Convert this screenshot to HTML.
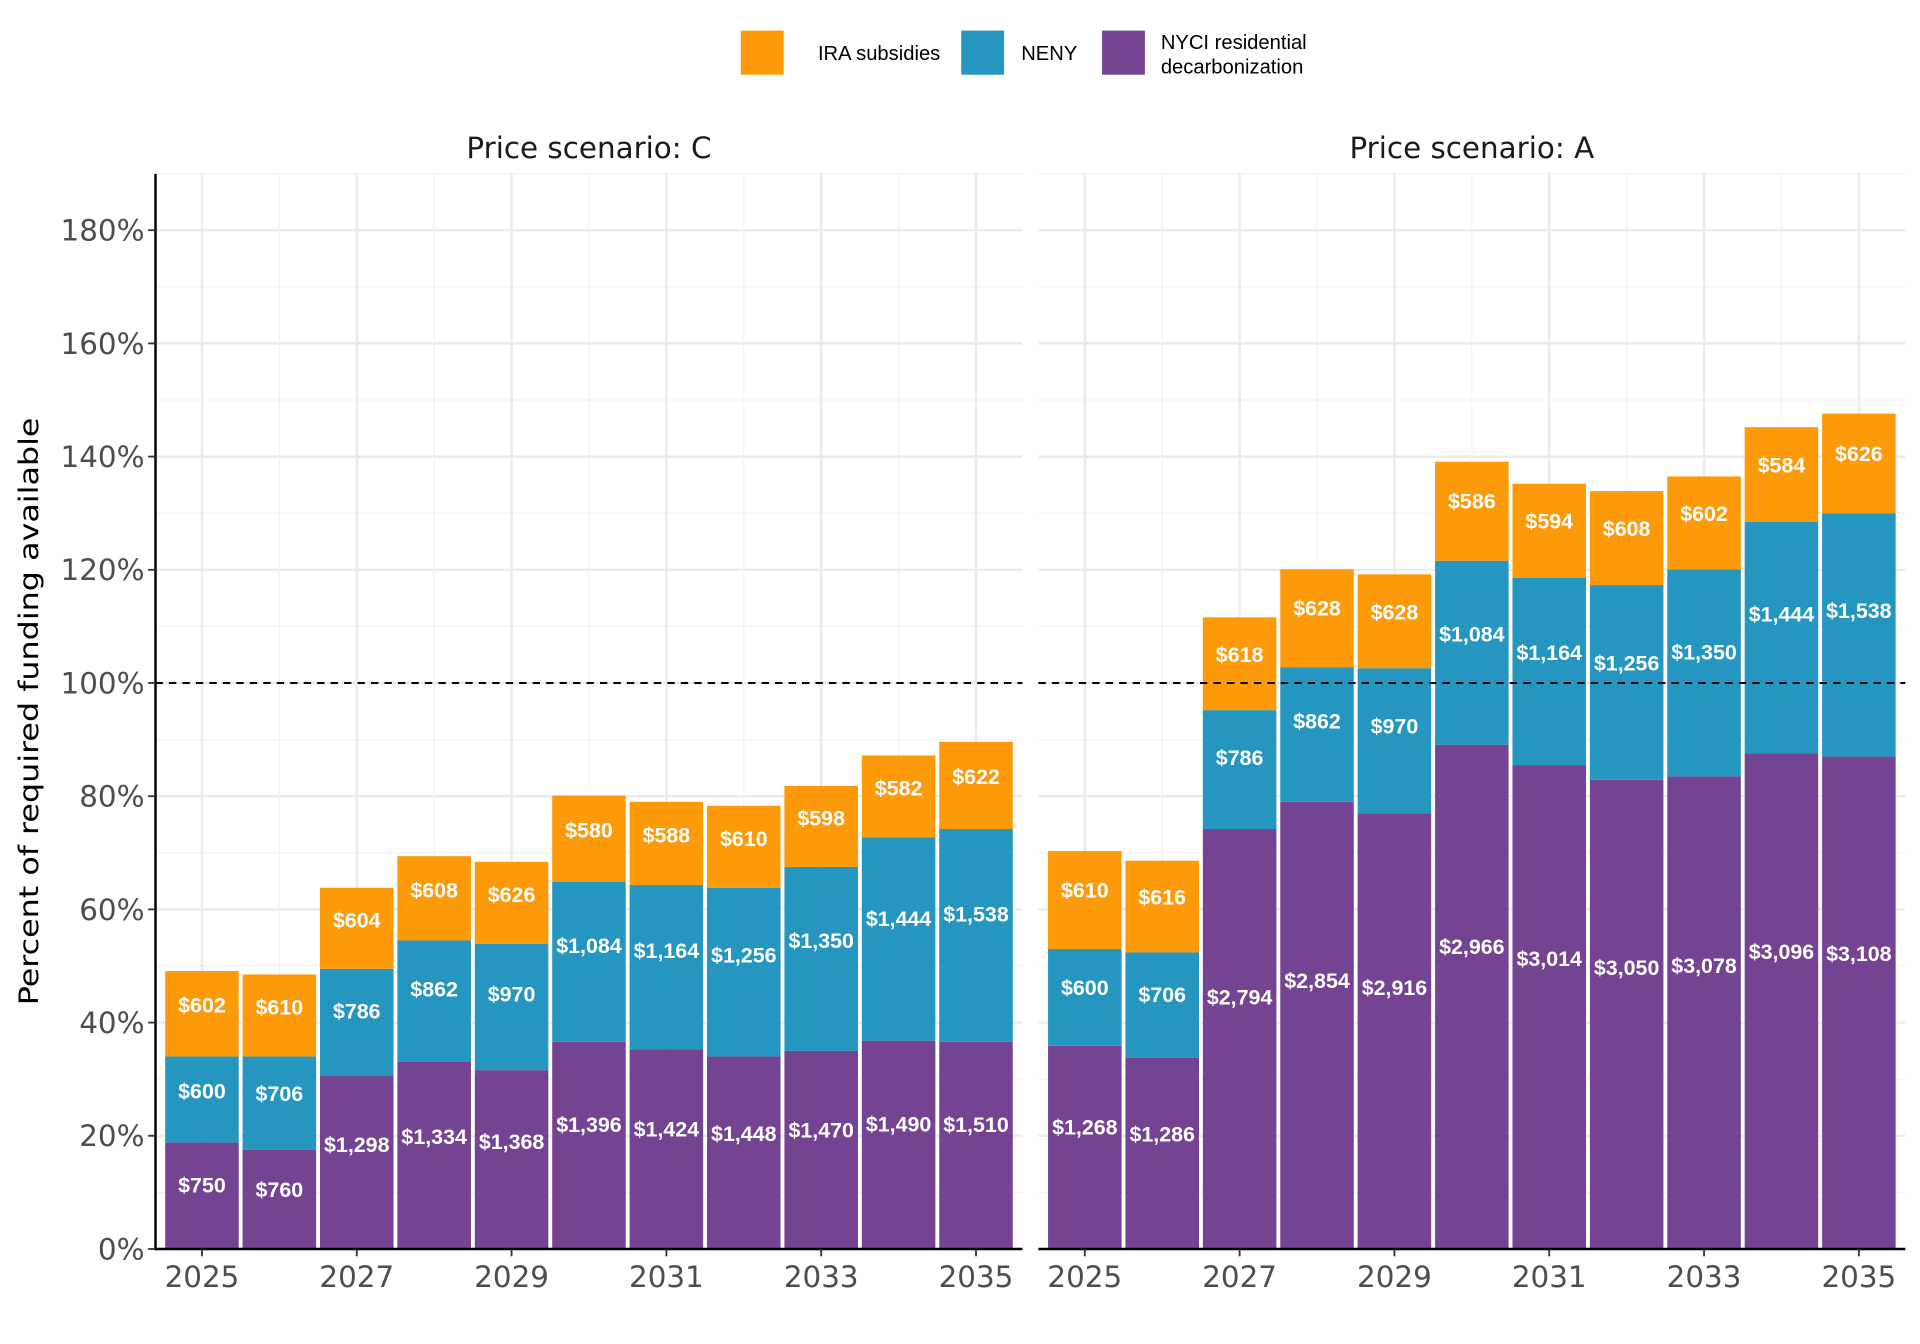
<!DOCTYPE html>
<html><head><meta charset="utf-8"><style>
html,body{margin:0;padding:0;background:#fff;}
svg{display:block;font-family:"Liberation Sans",sans-serif;}
.dv{font-family:"DejaVu Sans","Liberation Sans",sans-serif;}
</style></head><body>
<svg id="chart" width="1920" height="1344" viewBox="0 0 1568 1097.6" xmlns="http://www.w3.org/2000/svg">
<g>
<rect x="605" y="25" width="35" height="36" fill="#fc9a0a"/>
<text x="668" y="49" font-size="16.5" fill="#000">IRA subsidies</text>
<rect x="785" y="25" width="35" height="36" fill="#2596c0"/>
<text x="834" y="49" font-size="16.5" fill="#000">NENY</text>
<rect x="900" y="25" width="35" height="36" fill="#744391"/>
<text x="948" y="40" font-size="16.5" fill="#000">NYCI residential</text>
<text x="948" y="60" font-size="16.5" fill="#000">decarbonization</text>
</g>
<text class="dv" transform="translate(31,581) rotate(-90)" text-anchor="middle" font-size="22" textLength="480" lengthAdjust="spacingAndGlyphs" fill="#000">Percent of required funding available</text>
<g id="plot"></g>
</svg>
<script>
const years = [2025,2026,2027,2028,2029,2030,2031,2032,2033,2034,2035];
const yTicks = [0,20,40,60,80,100,120,140,160,180];
const xTicks = [2025,2027,2029,2031,2033,2035];
// cumulative tops (percent) per scenario
const cPurple = [18.8,17.5,30.7,33.1,31.6,36.6,35.3,34.0,35.0,36.8,36.6];
const cNeny   = [34.0,34.0,49.5,54.5,53.9,64.9,64.3,63.8,67.5,72.7,74.2];
const cIra    = [49.1,48.5,63.8,69.4,68.4,80.1,79.0,78.3,81.8,87.2,89.6];
const aPurple = [35.9,33.8,74.2,79.0,77.0,89.1,85.5,82.9,83.5,87.6,87.0];
const aNeny   = [53.0,52.4,95.2,102.8,102.6,121.6,118.6,117.3,120.1,128.5,130.0];
const aIra    = [70.3,68.6,111.6,120.1,119.2,139.1,135.2,133.9,136.5,145.2,147.6];
const cPurpleLbl = ["$750","$760","$1,298","$1,334","$1,368","$1,396","$1,424","$1,448","$1,470","$1,490","$1,510"];
const cNenyLbl = ["$600","$706","$786","$862","$970","$1,084","$1,164","$1,256","$1,350","$1,444","$1,538"];
const cIraLbl = ["$602","$610","$604","$608","$626","$580","$588","$610","$598","$582","$622"];
const aPurpleLbl = ["$1,268","$1,286","$2,794","$2,854","$2,916","$2,966","$3,014","$3,050","$3,078","$3,096","$3,108"];
const aNenyLbl = ["$600","$706","$786","$862","$970","$1,084","$1,164","$1,256","$1,350","$1,444","$1,538"];
const aIraLbl = ["$610","$616","$618","$628","$628","$586","$594","$608","$602","$584","$626"];

const NS="http://www.w3.org/2000/svg";
const plot=document.getElementById('plot');
function el(tag,attrs,parent){const e=document.createElementNS(NS,tag);for(const k in attrs)e.setAttribute(k,attrs[k]);(parent||plot).appendChild(e);return e;}
const yScale=v=>1020-v*(1020-188)/180;
const topY=142;
const panels=[
 {x0:127,x1:835,title:"Price scenario: C",p:cPurple,n:cNeny,i:cIra,pl:cPurpleLbl,nl:cNenyLbl,il:cIraLbl,key:"c"},
 {x0:848,x1:1556,title:"Price scenario: A",p:aPurple,n:aNeny,i:aIra,pl:aPurpleLbl,nl:aNenyLbl,il:aIraLbl,key:"a"}
];
const colors={p:"#744391",n:"#2596c0",i:"#fc9a0a"};
panels.forEach((P,pi)=>{
  const xs=y=>P.x0+(y-2024.4)*(P.x1-P.x0)/11.2;
  const step=xs(2026)-xs(2025);
  const g=el('g',{});
  
  
  for(let v=10;v<=190;v+=20){const l=el('line',{x1:P.x0,x2:P.x1,y1:yScale(v),y2:yScale(v),stroke:"#f2f2f2","stroke-width":1},g);}
  yTicks.forEach(v=>{const l=el('line',{x1:P.x0,x2:P.x1,y1:yScale(v),y2:yScale(v),stroke:"#ebebeb","stroke-width":2},g);});
  years.forEach(y=>{const major=xTicks.includes(y);const l=el('line',{x1:xs(y),x2:xs(y),y1:topY,y2:1020,stroke:major?"#ebebeb":"#f2f2f2","stroke-width":major?2:1},g);});
  const bw=step*0.95;
  years.forEach((y,k)=>{
    const segs=[["p",0,P.p[k],P.pl[k]],["n",P.p[k],P.n[k],P.nl[k]],["i",P.n[k],P.i[k],P.il[k]]];
    segs.forEach(s=>{
      const y1=yScale(s[2]),y0=yScale(s[1]);
      const r=el('rect',{x:xs(y)-bw/2,y:y1,width:bw,height:y0-y1,fill:colors[s[0]]},g);
      
      
      const cy=yScale(s[1]+0.6*(s[2]-s[1]));
      const t=el('text',{x:xs(y),y:cy+6,"text-anchor":"middle","font-size":17.5,"font-weight":"bold",fill:"#fff"},g);
      t.textContent=s[3];
      
      
    });
  });
  const d=el('line',{x1:P.x0,x2:P.x1,y1:yScale(100),y2:yScale(100),stroke:"#000","stroke-width":1.6,"stroke-dasharray":"6,5"},g);
  
  
  const ax=el('line',{x1:P.x0,x2:P.x1,y1:1020,y2:1020,stroke:"#000","stroke-width":2},g);
  
  
  xTicks.forEach(y=>{
    const tk=el('line',{x1:xs(y),x2:xs(y),y1:1020,y2:1026,stroke:"#333","stroke-width":1.5},g);
    
    
    const t=el('text',{x:xs(y),y:1051,"text-anchor":"middle","font-size":24,fill:"#4d4d4d","class":"dv"},g);
    t.textContent=y;
    
    
  });
  const st=el('text',{x:(P.x0+P.x1)/2,y:129,"text-anchor":"middle","font-size":24,fill:"#1a1a1a","class":"dv"},g);
  st.textContent=P.title;
  
  
  if(pi===0){
    const ya=el('line',{x1:P.x0,x2:P.x0,y1:topY,y2:1021,stroke:"#000","stroke-width":2},g);
    
    
    yTicks.forEach(v=>{
      const tk=el('line',{x1:P.x0-6,x2:P.x0,y1:yScale(v),y2:yScale(v),stroke:"#333","stroke-width":1.5},g);
      
      
      const t=el('text',{x:P.x0-9,y:yScale(v)+8.5,"text-anchor":"end","font-size":24,fill:"#4d4d4d","class":"dv"},g);
      t.textContent=v+"%";
      
      
    });
  }
});
</script>
</body></html>
